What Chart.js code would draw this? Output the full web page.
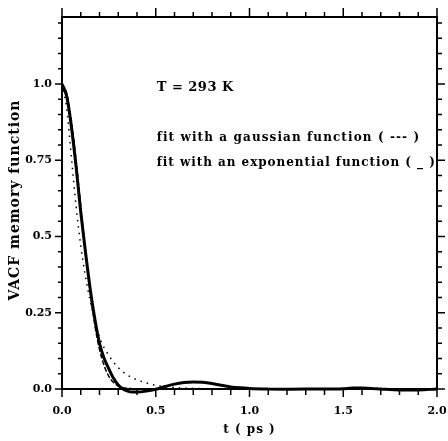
<!DOCTYPE html>
<html>
<head>
<meta charset="utf-8">
<title>VACF memory function</title>
<script src="https://cdn.jsdelivr.net/npm/chart.js@4/dist/chart.umd.min.js"></script>
<style>
  html, body { margin: 0; padding: 0; background: #fff; }
  canvas { display: block; }
</style>
</head>
<body>
<canvas id="c" width="448" height="441"></canvas>
<script>
// time grid (ps)
const time = [0, 0.025, 0.05, 0.075, 0.1, 0.125, 0.15, 0.175, 0.2, 0.225,
  0.25, 0.275, 0.3, 0.325, 0.35, 0.375, 0.4, 0.45, 0.5, 0.55,
  0.6, 0.65, 0.7, 0.75, 0.8, 0.85, 0.9, 0.95, 1.0, 1.1,
  1.2, 1.3, 1.4, 1.5, 1.55, 1.6, 1.65, 1.7, 1.8, 1.9, 2.0];

// memory function from the simulation
const memory = [1.0, 0.96, 0.86, 0.73, 0.58, 0.45, 0.33, 0.23, 0.15, 0.10,
  0.066, 0.035, 0.013, 0.0, -0.007, -0.010, -0.010, -0.007, -0.001, 0.008,
  0.016, 0.021, 0.023, 0.022, 0.018, 0.012, 0.007, 0.004, 0.002, 0.0,
  -0.001, 0.0, 0.0, 0.001, 0.003, 0.003, 0.002, 0.0, -0.003, -0.003, 0.0];

// gaussian fit
const gaussFit = [1.0, 0.97, 0.88, 0.75, 0.60, 0.45, 0.32, 0.21, 0.13, 0.076,
  0.041, 0.021, 0.010, 0.004, 0.002, 0.001, 0, 0, 0, 0,
  0, 0, 0, 0, 0, 0, 0, 0, 0, 0,
  0, 0, 0, 0, 0, 0, 0, 0, 0, 0, 0];

// exponential fit
const expFit = [1.0, 0.92, 0.76, 0.60, 0.47, 0.37, 0.29, 0.225, 0.17, 0.135,
  0.11, 0.088, 0.07, 0.056, 0.045, 0.037, 0.03, 0.02, 0.012, 0.008,
  0.005, 0.003, 0.002, 0.001, 0, 0, 0, 0, 0, 0,
  0, 0, 0, 0, 0, 0, 0, 0, 0, 0, 0];

const xTicks = [0, 0.5, 1.0, 1.5, 2.0];
const xTickLabels = ['0.0', '0.5', '1.0', '1.5', '2.0'];
const yTicks = [0, 0.25, 0.5, 0.75, 1.0];
const yTickLabels = ['0.0', '0.25', '0.5', '0.75', '1.0'];

const notes = [
  { text: 'T = 293 K', t: 0.505, v: 0.99, size: 13, spacing: 0.5 },
  { text: 'fit with a gaussian function ( --- )', t: 0.505, v: 0.825, size: 12, spacing: 1.1 },
  { text: 'fit with an exponential function ( _ )', t: 0.505, v: 0.74, size: 12, spacing: 0.95 }
];

const SERIF = '"DejaVu Serif", "Liberation Serif", serif';

const pts = arr => time.map((t, i) => ({ x: t, y: arr[i] }));

// frame, tick marks on all four sides, annotations and axis titles
const framePlugin = {
  id: 'frame',
  afterDraw(chart) {
    const { ctx, chartArea: a, scales: { x, y } } = chart;
    ctx.save();
    ctx.strokeStyle = '#000';
    ctx.lineWidth = 2;
    ctx.strokeRect(a.left, a.top, a.right - a.left, a.bottom - a.top);

    ctx.lineWidth = 1.5;
    ctx.beginPath();
    for (let k = 0; k <= 20; k++) {
      const px = x.getPixelForValue(k / 10);
      const major = k % 5 === 0;
      ctx.moveTo(px, a.bottom); ctx.lineTo(px, a.bottom + (major ? 8 : 6));
      ctx.moveTo(px, a.top); ctx.lineTo(px, a.top - (major ? 9 : 5));
    }
    for (let k = 0; k <= 24; k++) {
      const py = y.getPixelForValue(k / 20);
      const major = k % 5 === 0;
      ctx.moveTo(a.left, py); ctx.lineTo(a.left - (major ? 7 : 4), py);
      ctx.moveTo(a.right, py); ctx.lineTo(a.right + (major ? 8 : 5), py);
    }
    ctx.stroke();

    ctx.fillStyle = '#000';
    ctx.textAlign = 'left';
    ctx.textBaseline = 'middle';
    notes.forEach(n => {
      ctx.font = 'bold ' + n.size + 'px ' + SERIF;
      ctx.letterSpacing = n.spacing + 'px';
      ctx.fillText(n.text, x.getPixelForValue(n.t), y.getPixelForValue(n.v));
    });

    // axis titles
    ctx.textAlign = 'center';
    ctx.font = 'bold 12px ' + SERIF;
    ctx.letterSpacing = '1px';
    ctx.fillText('t ( ps )', (a.left + a.right) / 2, 430);
    ctx.font = 'bold 14px ' + SERIF;
    ctx.translate(15, (a.top + a.bottom) / 2 - 3);
    ctx.rotate(-Math.PI / 2);
    ctx.fillText('VACF memory function', 0, 0);
    ctx.restore();
  }
};

const curve = { pointRadius: 0, cubicInterpolationMode: 'monotone', borderColor: '#000' };

new Chart(document.getElementById('c'), {
  type: 'line',
  data: {
    datasets: [
      Object.assign({ label: 'memory function', data: pts(memory), borderWidth: 3, clip: false }, curve),
      Object.assign({ label: 'gaussian fit', data: pts(gaussFit), borderWidth: 1.5, borderDash: [5, 2] }, curve),
      Object.assign({ label: 'exponential fit', data: pts(expFit), borderWidth: 1.5, borderDash: [1.5, 5] }, curve)
    ]
  },
  options: {
    responsive: false,
    animation: false,
    devicePixelRatio: 1,
    layout: { padding: { left: 0, top: 17, right: 11, bottom: 0 } },
    plugins: { legend: { display: false }, tooltip: { enabled: false } },
    scales: {
      x: {
        type: 'linear',
        min: 0,
        max: 2,
        afterBuildTicks: s => { s.ticks = xTicks.map(v => ({ value: v })); },
        afterFit: s => { s.height = 52; s.paddingLeft = 0; s.paddingRight = 0; },
        grid: { display: false, drawTicks: false },
        border: { display: false },
        ticks: {
          padding: 16,
          color: '#000',
          font: { family: SERIF, size: 11, weight: 'bold' },
          callback: (v, i) => xTickLabels[i]
        }
      },
      y: {
        type: 'linear',
        min: 0,
        max: 1.22,
        afterBuildTicks: s => { s.ticks = yTicks.map(v => ({ value: v })); },
        afterFit: s => { s.width = 62; s.paddingTop = 0; s.paddingBottom = 0; },
        grid: { display: false, drawTicks: false },
        border: { display: false },
        ticks: {
          padding: 10,
          color: '#000',
          font: { family: SERIF, size: 11, weight: 'bold' },
          callback: (v, i) => yTickLabels[i]
        }
      }
    }
  },
  plugins: [framePlugin]
});
</script>
</body>
</html>
